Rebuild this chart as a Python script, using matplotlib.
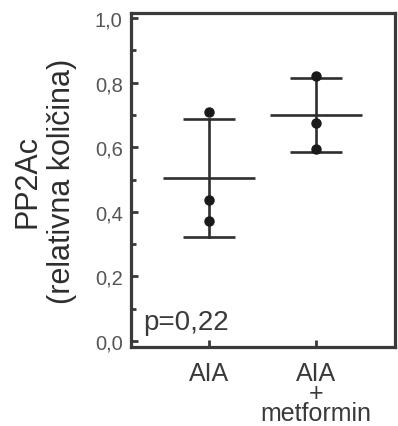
import matplotlib
matplotlib.use("Agg")
import matplotlib.pyplot as plt
from matplotlib.ticker import MultipleLocator, FuncFormatter

plt.rcParams['font.family'] = ['Liberation Sans', 'DejaVu Sans']

groups = ["AIA", "AIA\n+\nmetformin"]
points_aia = [0.71, 0.435, 0.37]
points_met = [0.82, 0.675, 0.595]
means = [0.505, 0.70]
sds = [0.182, 0.115]
p_text = "p=0,22"
ylabel = "PP2Ac\n(relativna količina)"

dark = "#2e2e2e"
fig = plt.figure(figsize=(3.98, 4.27), dpi=100)
ax = fig.add_axes([131/398, 79/427, (395-131)/398, (348-14)/427])

xs = [1, 2]
for x, m, s, pts in zip(xs, means, sds, [points_aia, points_met]):
    ax.plot([x - 0.43, x + 0.43], [m, m], color=dark, lw=1.9, solid_capstyle='butt')
    ax.plot([x - 0.24, x + 0.24], [m + s, m + s], color=dark, lw=1.9, solid_capstyle='butt')
    ax.plot([x - 0.24, x + 0.24], [m - s, m - s], color=dark, lw=1.9, solid_capstyle='butt')
    ax.plot([x, x], [m - s, m + s], color=dark, lw=1.9)
    ax.plot([x] * len(pts), pts, 'o', color="#1a1a1a", ms=6.5, zorder=3)

ax.set_xlim(0.27, 2.74)
ax.set_ylim(-0.019, 1.016)
ax.yaxis.set_major_locator(MultipleLocator(0.2))
ax.yaxis.set_minor_locator(MultipleLocator(0.1))
ax.yaxis.set_major_formatter(FuncFormatter(lambda v, p: f"{v:.1f}".replace('.', ',')))
ax.set_xticks(xs)
ax.set_xticklabels(groups, fontsize=18, color="#3a3a3a", linespacing=0.8, va='top')

for sp in ax.spines.values():
    sp.set_linewidth(2.3)
    sp.set_color("#3a3a3a")

ax.tick_params(axis='y', which='major', direction='in', length=5, width=2, color="#3a3a3a",
               labelsize=14.5, labelcolor="#555555", pad=6)
ax.tick_params(axis='y', which='minor', direction='in', length=3.5, width=2, color="#3a3a3a")
ax.tick_params(axis='x', which='major', direction='in', length=5, width=2, color="#3a3a3a", pad=10)

ax.text(0.045, 0.075, p_text, transform=ax.transAxes, fontsize=20, color="#3a3a3a",
        ha='left', va='center')

fig.text(45/398, 1 - 181/427, ylabel, rotation=90, ha='center', va='center',
         fontsize=22, color="#2e2e2e", linespacing=1.2, multialignment='center')

fig.savefig("out.png", dpi=100)
